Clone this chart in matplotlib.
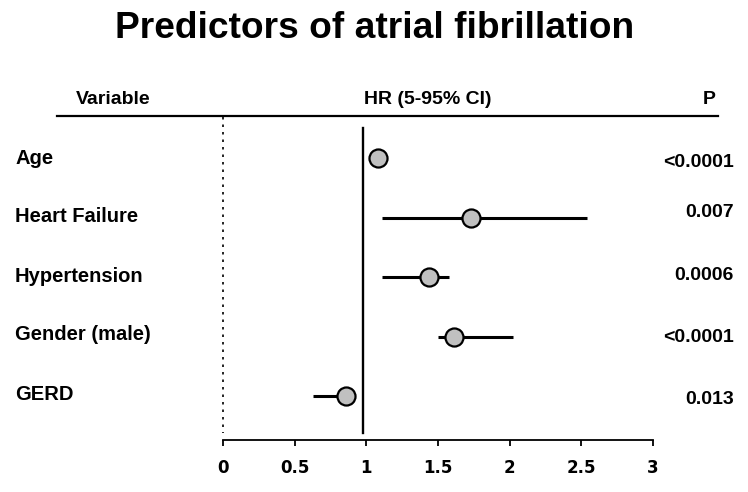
import matplotlib
matplotlib.use("Agg")
import matplotlib.pyplot as plt

plt.rcParams['font.family'] = ['Liberation Sans', 'DejaVu Sans']
plt.rcParams['font.weight'] = 'bold'

variables = ["Age", "Heart Failure", "Hypertension", "Gender (male)", "GERD"]
hr = [1.08, 1.73, 1.44, 1.61, 0.86]
ci_low = [1.04, 1.11, 1.11, 1.50, 0.63]
ci_high = [1.11, 2.54, 1.58, 2.02, 0.92]
p_values = ["<0.0001", "0.007", "0.0006", "<0.0001", "0.013"]
xticks = [0, 0.5, 1, 1.5, 2, 2.5, 3]
xtick_labels = ["0", "0.5", "1", "1.5", "2", "2.5", "3"]
ref_line = 0.975
title = "Predictors of atrial fibrillation"

W, H = 748, 492
fig = plt.figure(figsize=(W / 100, H / 100), dpi=100)

# axes placed in pixel units
ax_left, ax_right = 223, 653
ax_top, ax_bottom = 116, 440
ax = fig.add_axes([ax_left / W, 1 - ax_bottom / H, (ax_right - ax_left) / W, (ax_bottom - ax_top) / H])

ypos = [5, 4, 3, 2, 1]
row_px = 59.5
ax.set_xlim(0, 3)
ax.set_ylim(1 - (ax_bottom - 396) / row_px, 5 + (158 - ax_top) / row_px)

for s in ["left", "right", "top"]:
    ax.spines[s].set_visible(False)
ax.spines["bottom"].set_linewidth(1.3)
ax.set_yticks([])
ax.set_xticks(xticks)
ax.set_xticklabels(xtick_labels, fontsize=12, fontweight='bold', family=['DejaVu Sans'])
ax.tick_params(axis='x', direction='out', length=4, width=1.3, pad=10)

# reference lines
ax.plot([0, 0], [ax.get_ylim()[1] - 0.02, 1 - (433 - 396) / row_px], color='black',
        linestyle=(0, (1.5, 3)), linewidth=1.2, clip_on=False)
ax.plot([ref_line, ref_line], [5 + (158 - 128) / row_px, 1 - (433 - 396) / row_px],
        color='black', linewidth=1.7)

for y, m, lo, hi in zip(ypos, hr, ci_low, ci_high):
    ax.plot([lo, hi], [y, y], color='black', linewidth=2.2, solid_capstyle='butt', zorder=3)
    ax.plot([m], [y], marker='o', markersize=13, markerfacecolor='#c0c0c0',
            markeredgecolor='black', markeredgewidth=1.6, zorder=4)

# labels and p-values in figure pixel coordinates
def fy(py):
    return 1 - py / H

label_y = [158, 217, 277, 335, 394]
p_y = [162, 213, 275, 337, 400]
for name, ly in zip(variables, label_y):
    fig.text(15 / W, fy(ly), name, fontsize=14.5, fontweight='bold', ha='left', va='center')
for p, py in zip(p_values, p_y):
    fig.text(734 / W, fy(py), p, fontsize=14, fontweight='bold', ha='right', va='center')

# header
fig.text(113 / W, fy(99), "Variable", fontsize=14, fontweight='bold', ha='center', va='center')
fig.text(428 / W, fy(99), "HR (5-95% CI)", fontsize=14, fontweight='bold', ha='center', va='center')
fig.text(716 / W, fy(99), "P", fontsize=14, fontweight='bold', ha='right', va='center')
fig.add_artist(plt.Line2D([57 / W, 718 / W], [fy(116), fy(116)], color='black', linewidth=1.6))

fig.text(374.5 / W, fy(28), title, fontsize=26.7, fontweight='bold', ha='center', va='center')

fig.savefig("out.png", dpi=100)
